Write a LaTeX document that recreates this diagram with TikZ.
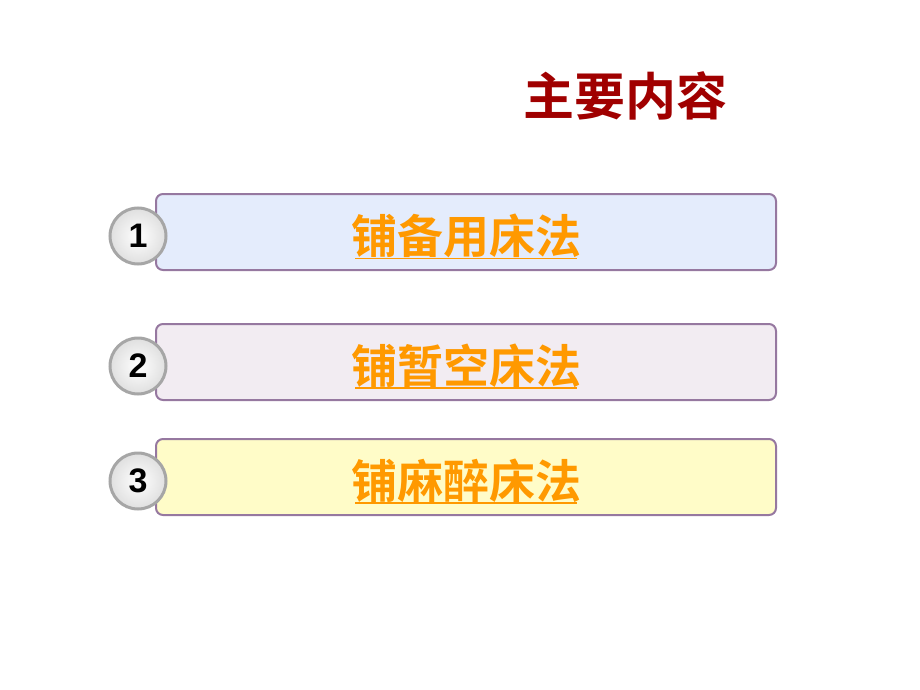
\documentclass[tikz,border=0pt]{standalone}
\usepackage{fontspec}
\usetikzlibrary{calc}
\newfontfamily\cjk{Noto Sans CJK SC}[BoldFont=* Bold]
\setmainfont{Liberation Sans}
\definecolor{tred}{RGB}{160,0,0}
\definecolor{torange}{RGB}{255,153,0}
\definecolor{bedge}{RGB}{150,120,160}
\definecolor{f1}{RGB}{228,236,252}
\definecolor{f2}{RGB}{242,236,242}
\definecolor{f3}{RGB}{255,252,200}
\begin{document}
\begin{tikzpicture}[x=1pt,y=-1pt,
  bar/.style={draw=bedge,line width=2pt,rounded corners=7pt},
  num/.style={circle,draw=gray!70,line width=3pt,inner sep=0pt,minimum size=56pt,
    inner color=white,outer color=gray!25,font=\bfseries\fontsize{34}{34}\selectfont},
  lbl/.style={text=torange,font=\cjk\bfseries\fontsize{46}{46}\selectfont}]
\useasboundingbox (0,0) rectangle (920,690);
\node[text=tred,font=\cjk\bfseries\fontsize{51}{51}\selectfont] (title) at (625,96) {主要内容};
\foreach \i/\y/\c/\t in {1/232/f1/铺备用床法,2/362/f2/铺暂空床法,3/477/f3/铺麻醉床法}{
  \path[bar,fill=\c] (156,\y-38) rectangle (776,\y+38);
  \node[lbl] (l\i) at (466,\y+4) {\t};
  \draw[torange,line width=1.8pt] ($(l\i.south west)+(8,-3)$) -- ($(l\i.south east)+(-8,-3)$);
  \node[num] (n\i) at (138,\y+4) {\i};
}
\end{tikzpicture}
\end{document}
